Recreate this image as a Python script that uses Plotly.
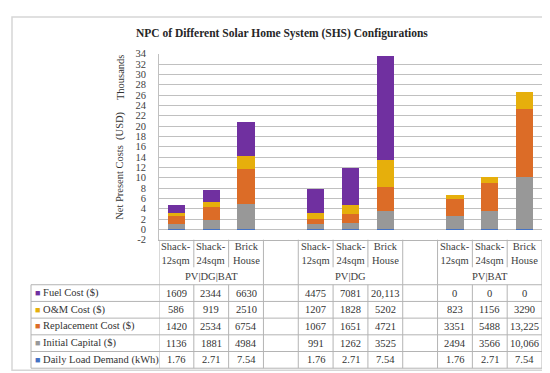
import plotly.graph_objects as go

# ---------------- data ----------------
chart_title = "NPC of Different Solar Home System (SHS) Configurations"
groups = ["PV|DG|BAT", "PV|DG", "PV|BAT"]
houses = ["Shack-12sqm", "Shack-24sqm", "Brick House"]
house_labels = ["Shack-<br>12sqm", "Shack-<br>24sqm", "Brick<br>House"]

series_names = ["Fuel Cost ($)", "O&M Cost ($)", "Replacement Cost ($)",
                "Initial Capital ($)", "Daily Load Demand (kWh)"]
series_colors = ["#7030A0", "#E6AF0C", "#DC6C27", "#989898", "#4472C4"]

# values per column: PV|DG|BAT (3 houses), PV|DG (3), PV|BAT (3)
fuel_cost = [1609, 2344, 6630, 4475, 7081, 20113, 0, 0, 0]
om_cost = [586, 919, 2510, 1207, 1828, 5202, 823, 1156, 3290]
replacement_cost = [1420, 2534, 6754, 1067, 1651, 4721, 3351, 5488, 13225]
initial_capital = [1136, 1881, 4984, 991, 1262, 3525, 2494, 3566, 10066]
daily_load = [1.76, 2.71, 7.54, 1.76, 2.71, 7.54, 1.76, 2.71, 7.54]

y_ticks = list(range(-2, 35, 2))

series_values = [fuel_cost, om_cost, replacement_cost, initial_capital, daily_load]

# ---------------- layout constants (pixels) ----------------
W, H = 550, 373
FONT = "Liberation Serif"
TXT = "#404040"
GRID = "#C0C0C0"
TLINE = "#B4B4B4"
plot_l, plot_r, plot_t, plot_b = 151, 534, 42, 233.6
tbl_l, tbl_t, row_h = 23, 280, 17.2


def px(x):
    return x / W


def py(y):
    return 1 - y / H


# category slots (with blank spacer slots between groups)
slot_keys, slot_labels, data_keys = [], [], []
for gi, g in enumerate(groups):
    if gi > 0:
        slot_keys.append(" " * gi)
        slot_labels.append("")
    for h, hl in zip(houses, house_labels):
        k = g + " / " + h
        slot_keys.append(k)
        slot_labels.append(hl)
        data_keys.append(k)
n_slots = len(slot_keys)

fig = go.Figure()

# stacked bars, bottom -> top (axis shown in thousands)
for name, color, vals in reversed(list(zip(series_names, series_colors, series_values))):
    fig.add_trace(go.Bar(
        x=data_keys, y=[v / 1000.0 for v in vals], name=name,
        marker=dict(color=color, line=dict(width=0)),
        showlegend=False, hoverinfo="skip",
    ))


def fmt(v):
    if isinstance(v, float):
        return f"{v:.2f}"
    return f"{v:,}" if v >= 10000 else str(v)


shapes = []
annotations = []
line_style = dict(color=TLINE, width=1)

# outer frame
shapes.append(dict(type="rect", xref="paper", yref="paper", x0=px(4), x1=px(543),
                   y0=py(368), y1=py(4), line=dict(color="#D6D6D6", width=1.5)))

# ---- header part of the data table (category + group labels) ----
for i in range(-1, n_slots):
    left_blank = i < 0 or slot_labels[i] == ""
    right_blank = i + 1 >= n_slots or slot_labels[i + 1] == ""
    bottom = tbl_t if (left_blank or right_blank) else 262
    shapes.append(dict(type="line", xref="x", yref="paper", x0=i + 0.5, x1=i + 0.5,
                       y0=py(plot_b), y1=py(bottom), line=line_style))
for k, lab in zip(slot_keys, slot_labels):
    if lab:
        annotations.append(dict(text=lab, x=k, xref="x", y=py(248), yref="paper",
                                showarrow=False, xanchor="center", yanchor="middle",
                                font=dict(family=FONT, size=10.5, color=TXT)))
for g in groups:
    annotations.append(dict(text=g, x=g + " / " + houses[1], xref="x", y=py(271.5), yref="paper",
                            showarrow=False, xanchor="center", yanchor="middle",
                            font=dict(family=FONT, size=10.5, color=TXT)))

# ---- data rows of the table ----
n_rows = len(series_names)
tbl_b = tbl_t + row_h * n_rows
for r in range(n_rows + 1):
    shapes.append(dict(type="line", xref="paper", yref="paper", x0=px(tbl_l), x1=px(plot_r),
                       y0=py(tbl_t + row_h * r), y1=py(tbl_t + row_h * r), line=line_style))
shapes.append(dict(type="line", xref="paper", yref="paper", x0=px(tbl_l), x1=px(tbl_l),
                   y0=py(tbl_t), y1=py(tbl_b), line=line_style))
for i in range(-1, n_slots):
    shapes.append(dict(type="line", xref="x", yref="paper", x0=i + 0.5, x1=i + 0.5,
                       y0=py(tbl_t), y1=py(tbl_b), line=line_style))

for r, (name, color, vals) in enumerate(zip(series_names, series_colors, series_values)):
    yc = py(tbl_t + row_h * (r + 0.5))
    annotations.append(dict(
        text=f'<span style="color:{color};font-size:9px">■</span> {name}',
        x=px(tbl_l + 2), xref="paper", y=yc, yref="paper",
        showarrow=False, xanchor="left", yanchor="middle",
        font=dict(family=FONT, size=10.5, color="#333333")))
    for k, v in zip(data_keys, vals):
        annotations.append(dict(text=fmt(v), x=k, xref="x", y=yc, yref="paper",
                                showarrow=False, xanchor="center", yanchor="middle",
                                font=dict(family=FONT, size=10.5, color="#333333")))

# ---- titles ----
annotations.append(dict(text=f"<b>{chart_title}</b>", x=px(274), y=py(21),
                        xref="paper", yref="paper", showarrow=False,
                        xanchor="center", yanchor="middle",
                        font=dict(family=FONT, size=11.5, color="#262626")))
annotations.append(dict(text="Thousands", x=px(112), y=py(66), xref="paper", yref="paper",
                        textangle=-90, showarrow=False, xanchor="center", yanchor="middle",
                        font=dict(family=FONT, size=10.5, color="#333333")))
annotations.append(dict(text="Net Present Costs \u00a0(USD)", x=px(112), y=py(157.5),
                        xref="paper", yref="paper", textangle=-90, showarrow=False,
                        xanchor="center", yanchor="middle",
                        font=dict(family=FONT, size=10.5, color="#333333")))

fig.update_layout(
    width=W, height=H, autosize=False,
    margin=dict(l=0, r=0, t=0, b=0),
    paper_bgcolor="white", plot_bgcolor="white",
    barmode="stack", bargap=0.5,
    xaxis=dict(domain=[px(plot_l), px(plot_r)], type="category",
               categoryorder="array", categoryarray=slot_keys,
               range=[-0.5, n_slots - 0.5], showgrid=False, zeroline=False,
               showline=True, linecolor=TLINE, linewidth=1, ticks="",
               showticklabels=False),
    yaxis=dict(domain=[py(plot_b), py(plot_t)], range=[-2, 34],
               tickmode="array", tickvals=y_ticks, ticktext=[str(t) for t in y_ticks],
               showgrid=True, gridcolor=GRID, gridwidth=1, zeroline=False,
               showline=True, linecolor=GRID, linewidth=1,
               ticks="outside", ticklen=10, tickcolor="rgba(0,0,0,0)",
               tickfont=dict(family=FONT, size=10.5, color=TXT)),
    shapes=shapes, annotations=annotations,
)

fig.write_html("out.html")
